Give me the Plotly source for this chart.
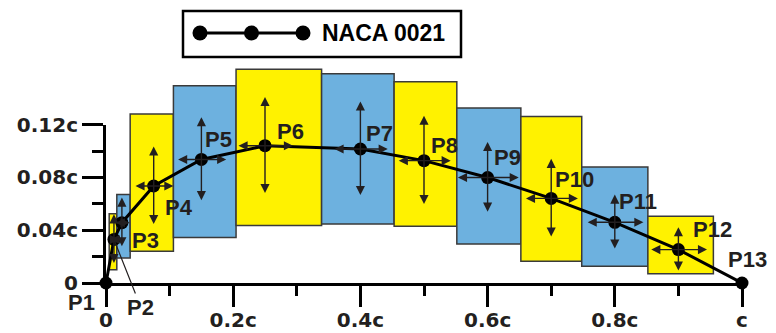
import plotly.graph_objects as go

# ---------------- data ----------------
point_names = ["P1", "P2", "P3", "P4", "P5", "P6", "P7", "P8", "P9", "P10", "P11", "P12", "P13"]
point_x = [0.0, 0.0125, 0.025, 0.075, 0.15, 0.25, 0.40, 0.50, 0.60, 0.70, 0.80, 0.90, 1.0]
point_y = [0.0, 0.033, 0.0457, 0.0735, 0.0936, 0.104, 0.1015, 0.0927, 0.0799, 0.0641, 0.046, 0.0253, 0.0]

# half-lengths of the double arrows (horizontal / vertical), P1..P13
arrow_dx = [0, 0.008, 0.012, 0.031, 0.039, 0.044, 0.043, 0.042, 0.049, 0.042, 0.045, 0.045, 0]
arrow_dy = [0, 0.019, 0.019, 0.030, 0.032, 0.037, 0.036, 0.034, 0.027, 0.030, 0.021, 0.017, 0]

# boxes around the points
box_left = [0.005, 0.017, 0.038, 0.106, 0.2045, 0.339, 0.453, 0.5516, 0.6523, 0.748, 0.852]
box_right = [0.017, 0.038, 0.106, 0.2045, 0.339, 0.453, 0.5516, 0.6523, 0.748, 0.852, 0.955]
box_bottom = [0.010, 0.019, 0.024, 0.0345, 0.0436, 0.0447, 0.0429, 0.0295, 0.0164, 0.0126, 0.007]
box_top = [0.0525, 0.067, 0.128, 0.1495, 0.162, 0.1586, 0.1525, 0.1326, 0.1262, 0.0879, 0.0505]

x_tick_vals = [0, 0.2, 0.4, 0.6, 0.8, 1.0]
x_tick_text = ["0", "0.2c", "0.4c", "0.6c", "0.8c", "c"]
x_minor_vals = [0.1, 0.3, 0.5, 0.7, 0.9]
y_tick_vals = [0, 0.04, 0.08, 0.12]
y_tick_text = ["0", "0.04c", "0.08c", "0.12c"]
y_minor_vals = [0.02, 0.06, 0.10]

legend_label = "NACA 0021"

# ---------------- layout constants ----------------
PAGE = 8  # default body margin of the html page
W, H = 776 - PAGE, 333 - PAGE
ML, MR, MT, MB = 106 - PAGE, 34, 0, 50
PW, PH = W - ML - MR, H - MT - MB
YSCALE = 1320.0  # px per chord unit
Y_MAIN_MAX = 0.165
Y_AX_MAX = 0.12

YELLOW = "#FFF200"
BLUE = "#6DB1DF"
EDGE = "#3a3a3a"
ARROW = "#231F20"
LABEL_FONT = dict(family="Liberation Sans, Arial", size=22, color="#231F20", weight="bold")
TICK_FONT = dict(family="DejaVu Sans", size=20, color="#231F20", weight="bold")

# label offsets from their point, in pixels (right, up)
label_shift = {
    "P1": (-25, -19), "P2": (27, 68), "P3": (24, -18), "P4": (25, -22),
    "P5": (17, 20), "P6": (25, 14), "P7": (19, 16), "P8": (20, 15),
    "P9": (20, 20), "P10": (23, 19), "P11": (23, 21), "P12": (34, 20),
    "P13": (5, 24),
}

def px_x(p):  # window pixel -> paper x
    return (p - PAGE - ML) / PW

def px_y(p):  # window pixel -> paper y
    return (H - MB - (p - PAGE)) / PH

fig = go.Figure()

# boxes as bars with base
centers = [(l + r) / 2 for l, r in zip(box_left, box_right)]
widths = [r - l for l, r in zip(box_left, box_right)]
heights = [t - b for t, b in zip(box_top, box_bottom)]
colors = [YELLOW if i % 2 == 0 else BLUE for i in range(len(box_left))]
fig.add_trace(go.Bar(
    x=centers, y=heights, base=box_bottom, width=widths,
    marker=dict(color=colors, line=dict(color=EDGE, width=1.5)),
    xaxis="x", yaxis="y", hoverinfo="skip", showlegend=False,
))

# profile line with points
fig.add_trace(go.Scatter(
    x=point_x, y=point_y, mode="lines+markers",
    line=dict(color="black", width=3),
    marker=dict(color="black", size=13),
    xaxis="x", yaxis="y2", cliponaxis=False, showlegend=False, hoverinfo="skip",
))

# legend glyph (three markers joined by a line)
fig.add_trace(go.Scatter(
    x=[0, 1, 2], y=[0, 0, 0], mode="lines+markers",
    line=dict(color="black", width=3), marker=dict(color="black", size=15),
    xaxis="x3", yaxis="y3", cliponaxis=False, showlegend=False, hoverinfo="skip",
))

annotations = []
arrow_style = dict(xref="x", yref="y2", axref="x", ayref="y2", text="", showarrow=True,
                   arrowhead=2, startarrowhead=2, arrowside="end+start",
                   arrowsize=1.3, startarrowsize=1.3, arrowwidth=1.4, arrowcolor=ARROW,
                   standoff=0, startstandoff=0)
for name, x, y, dx, dy in zip(point_names, point_x, point_y, arrow_dx, arrow_dy):
    if dx > 0:
        annotations.append(dict(x=x + dx, y=y, ax=x - dx, ay=y, **arrow_style))
    if dy > 0:
        annotations.append(dict(x=x, y=y + dy, ax=x, ay=y - dy, **arrow_style))

for name, x, y in zip(point_names, point_x, point_y):
    sx, sy = label_shift[name]
    if name == "P2":
        annotations.append(dict(
            x=x, y=y, ax=sx, ay=sy, xref="x", yref="y2",
            text=name, font=LABEL_FONT, showarrow=True, arrowhead=0, arrowwidth=1.2,
            arrowcolor=ARROW, standoff=0))
    else:
        annotations.append(dict(
            x=x, y=y, xref="x", yref="y2", text=name, font=LABEL_FONT,
            showarrow=False, xanchor="center", yanchor="middle",
            xshift=sx, yshift=sy))

annotations.append(dict(
    x=px_x(320), y=px_y(33), xref="paper", yref="paper", text=legend_label,
    font=dict(family="Liberation Sans, Arial", size=23, color="black", weight="bold"),
    showarrow=False, xanchor="left", yanchor="middle"))

shapes = [dict(
    type="rect", xref="paper", yref="paper",
    x0=px_x(183), x1=px_x(461), y0=px_y(57), y1=px_y(11),
    line=dict(color="black", width=2.5), fillcolor="rgba(0,0,0,0)")]

fig.update_layout(
    width=W, height=H, margin=dict(l=ML, r=MR, t=MT, b=MB, autoexpand=False),
    paper_bgcolor="white", plot_bgcolor="rgba(0,0,0,0)",
    showlegend=False, barmode="overlay",
    xaxis=dict(
        range=[0, 1], domain=[0, 1], anchor="y2", automargin=False,
        showline=True, linecolor="black", linewidth=3, mirror=False,
        ticks="outside", ticklen=21, tickwidth=3, tickcolor="black",
        tickvals=x_tick_vals, ticktext=x_tick_text, tickfont=TICK_FONT,
        ticklabelstandoff=-4,
        minor=dict(tickvals=x_minor_vals, ticks="outside", ticklen=10, tickwidth=3, tickcolor="black"),
        showgrid=False, zeroline=False, fixedrange=True,
    ),
    yaxis=dict(
        range=[0, Y_MAIN_MAX], domain=[0, Y_MAIN_MAX * YSCALE / PH], anchor="x",
        visible=False, showgrid=False, zeroline=False, fixedrange=True, automargin=False,
    ),
    yaxis2=dict(
        range=[0, Y_AX_MAX], domain=[0, Y_AX_MAX * YSCALE / PH], anchor="x", automargin=False,
        showline=True, linecolor="black", linewidth=3,
        ticks="outside", ticklen=21, tickwidth=3, tickcolor="black",
        tickvals=y_tick_vals, ticktext=y_tick_text, tickfont=TICK_FONT,
        minor=dict(tickvals=y_minor_vals, ticks="outside", ticklen=11, tickwidth=3, tickcolor="black"),
        showgrid=False, zeroline=False, fixedrange=True,
    ),
    xaxis3=dict(range=[0, 2], domain=[px_x(200), px_x(303)], anchor="y3",
                visible=False, fixedrange=True),
    yaxis3=dict(range=[-1, 1], domain=[px_y(43), px_y(23)], anchor="x3",
                visible=False, fixedrange=True),
    annotations=annotations, shapes=shapes,
)

fig.write_html("out.html")
